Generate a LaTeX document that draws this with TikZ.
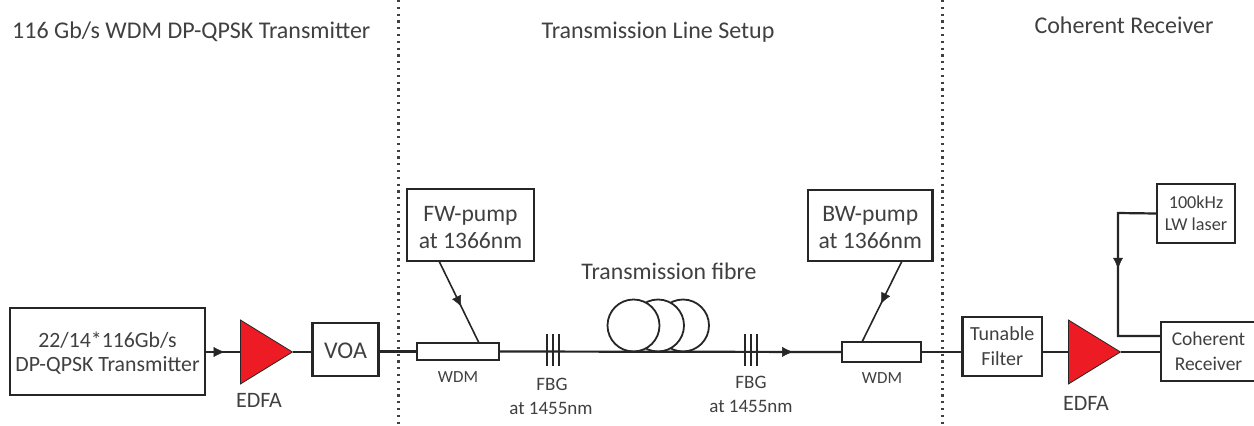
\documentclass[tikz,border=0pt]{standalone}
\usepackage{fontspec}
\setmainfont{Carlito}
\usetikzlibrary{shapes.geometric,decorations.markings,arrows.meta}
\definecolor{ink}{HTML}{262626}
\definecolor{txt}{HTML}{404040}
\definecolor{amp}{HTML}{ED1C24}
\newcommand{\lowerfirst}[1]{\rule{0pt}{#1}}
\tikzset{
  x=1pt,y=-1pt,
  wire/.style={draw=ink,line width=2.2pt},
  thin wire/.style={draw=ink,line width=1.6pt},
  midarrow/.style={postaction={decorate},decoration={markings,mark=at position #1 with {\arrow[ink,line width=.5pt]{Latex[length=11pt,width=10pt]}}}},
  block/.style={draw=ink,line width=2.2pt,fill=white,inner sep=0pt,align=center,text=txt},
  label text/.style={inner sep=0pt,align=center,text=txt,font=\fontsize{#1}{#1}\selectfont},
  label text/.default=19,
  amplifier/.style={isosceles triangle,isosceles triangle stretches=true,shape border rotate=0,draw=ink,line width=.8pt,fill=amp,inner sep=0pt,minimum width=64pt,minimum height=52pt,anchor=lower side},
  divider/.style={draw=txt,line width=2.2pt,dash pattern=on 2.2pt off 4.6pt},
  grating/.style={draw=ink,line width=1.7pt},
  loop/.style={draw=ink,line width=1.8pt,fill=white},
}
\begin{document}
\begin{tikzpicture}[x=1pt,y=-1pt]
\useasboundingbox (0,0) rectangle (1254,426);
\fill[white] (0,0) rectangle (1254,426);
\clip (0,0) rectangle (1254,426);
% dividers
\coordinate (d1t) at (398.5,0); \coordinate (d1b) at (398.5,426);
\coordinate (d2t) at (942.5,0); \coordinate (d2b) at (942.5,426);
\draw[divider] (d1t) -- (d1b);
\draw[divider] (d2t) -- (d2b);
% titles
\node[label text=24,anchor=west] (t1) at (12,32) {116 Gb/s WDM DP-QPSK Transmitter};
\node[label text=24] (t2) at (658,32) {Transmission Line Setup};
\node[label text=24] (t3) at (1124,25) {Coherent Receiver};
% blocks
\node[block,minimum width=195pt,minimum height=87pt,font=\fontsize{21.8}{21.8}\selectfont] (tx) at (107.5,351.5) {\lowerfirst{19pt}22/14*116Gb/s\\[3pt]DP-QPSK Transmitter};
\node[amplifier] (edfa1) at (240,352) {};
\node[block,minimum width=66pt,minimum height=53pt,font=\fontsize{24}{24}\selectfont] (voa) at (345.5,349.5) {\lowerfirst{18pt}VOA};
\node[block,minimum width=82pt,minimum height=17pt] (wdm1) at (458,351.5) {};
\node[block,minimum width=127pt,minimum height=72pt,font=\fontsize{23.6}{24}\selectfont] (fw) at (470.5,225) {\lowerfirst{20pt}FW-pump\\[3pt]at 1366nm};
\node[block,minimum width=79pt,minimum height=20pt] (wdm2) at (881.5,352) {};
\node[block,minimum width=124.5pt,minimum height=71pt,font=\fontsize{23.6}{24}\selectfont] (bw) at (870.25,225.5) {\lowerfirst{20pt}BW-pump\\[3pt]at 1366nm};
\node[block,minimum width=79.5pt,minimum height=59pt,font=\fontsize{20}{20}\selectfont] (tf) at (1002.25,346.5) {Tunable\\[5pt]Filter};
\node[amplifier] (edfa2) at (1068,352) {};
\node[block,minimum width=110pt,minimum height=59pt,font=\fontsize{19.5}{20}\selectfont] (rx) at (1216,351.5) {\hspace*{-15pt}Coherent\\[5pt]\hspace*{-15pt}Receiver};
\node[block,minimum width=78pt,minimum height=59pt,font=\fontsize{18.2}{18.2}\selectfont] (lw) at (1196,213.5) {100kHz\\[4pt]LW laser};
% coordinates on the line
\coordinate (f1t) at (553,334); \coordinate (f1b) at (553,366);
\coordinate (f2t) at (751,334); \coordinate (f2b) at (751,366);
% fibre loops
\node[loop,circle,minimum size=52pt,inner sep=0pt] (c3) at (683,325.5) {};
\node[loop,circle,minimum size=52pt,inner sep=0pt] (c2) at (658,325.5) {};
\node[loop,circle,minimum size=52pt,inner sep=0pt] (c1) at (633.5,325.5) {};
% connectors
\draw[wire,midarrow=0.55] (tx.east |- edfa1.lower side) -- (edfa1.lower side);
\draw[wire] (edfa1.apex) -- (voa.west |- edfa1.apex) ;
\draw[wire] (voa.east |- wdm1.west) -- (wdm1.west);
\draw[wire,midarrow=0.86] (wdm1.east) -- (wdm2.west);
\draw[wire] (wdm2.east) -- (tf.west |- wdm2.east);
\draw[wire] (tf.east |- edfa2.lower side) -- (edfa2.lower side);
\draw[wire] (edfa2.apex) -- (rx.west |- edfa2.apex);
\coordinate (fwend) at (479,343);
\coordinate (fwstart) at (439,261);
\draw[thin wire,midarrow=0.56] (fwstart) -- (fwend);
\coordinate (bwend) at (862,342);
\coordinate (bwstart) at (902,261);
\draw[thin wire,midarrow=0.53] (bwstart) -- (bwend);
\coordinate (lcorner1) at (1118,213);
\coordinate (lcorner2) at (1118,336);
\coordinate (lend) at (1161,336);
\draw[wire,midarrow=0.46] (lw.west) -- (lcorner1) -- (lcorner2) -- (lend);
% gratings
\foreach \dx in {-6,0,6}{
  \draw[grating] ([xshift=\dx pt]f1t) -- ([xshift=\dx pt]f1b);
  \draw[grating] ([xshift=\dx pt]f2t) -- ([xshift=\dx pt]f2b);
}
% labels
\node[label text=22] (e1) at (259,400) {EDFA};
\node[label text=17] (wl1) at (458,377) {WDM};
\node[label text=19] (fb1) at (552,384) {FBG};
\node[label text=19] (fa1) at (551,408) {at 1455nm};
\node[label text=23.8] (tfb) at (669,271) {Transmission fibre};
\node[label text=19] (fb2) at (751,382) {FBG};
\node[label text=19] (fa2) at (751,406) {at 1455nm};
\node[label text=17] (wl2) at (882,378) {WDM};
\node[label text=22] (e2) at (1086,403) {EDFA};
\end{tikzpicture}
\end{document}
